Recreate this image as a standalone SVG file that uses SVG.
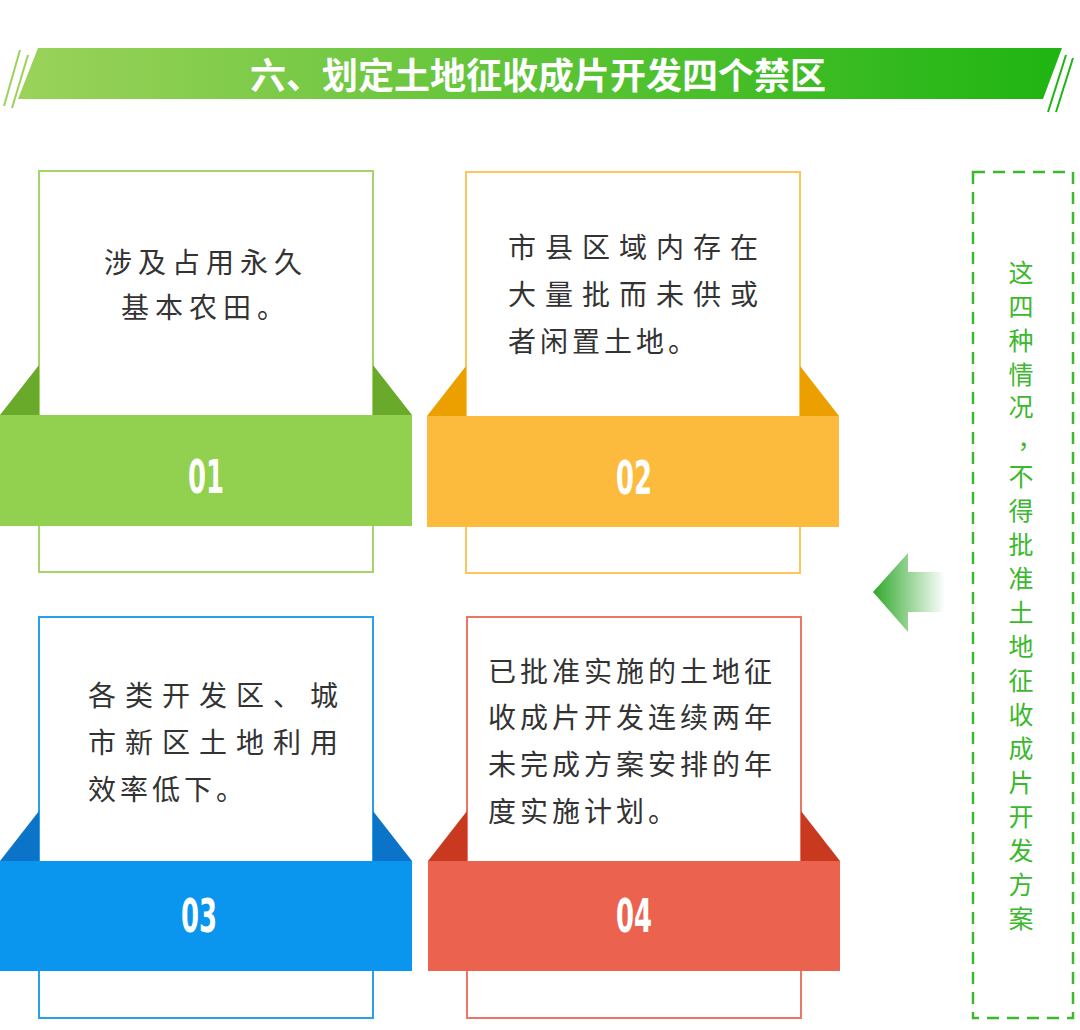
<svg xmlns="http://www.w3.org/2000/svg" width="1080" height="1030" viewBox="0 0 1080 1030">
<defs>
<linearGradient id="tg" x1="0" y1="0" x2="1" y2="0"><stop offset="0" stop-color="#9bd25a"/><stop offset="1" stop-color="#1fb512"/></linearGradient>
<linearGradient id="ag" x1="0" y1="0" x2="1" y2="0"><stop offset="0" stop-color="#2ea82a"/><stop offset="1" stop-color="#2ea82a" stop-opacity="0"/></linearGradient>
<style>
.t{font-family:"Noto Sans CJK SC",sans-serif;font-size:28px;fill:#333;letter-spacing:6px}
.n{font-family:"DejaVu Sans Condensed","DejaVu Sans",sans-serif;font-weight:bold;font-size:40px;fill:#fff;text-anchor:middle}
.v{font-family:"Noto Sans CJK SC",sans-serif;font-size:25px;fill:#3cb82e;text-anchor:middle}
</style>
</defs>
<rect width="1080" height="1030" fill="#fff"/>
<g id="title">
<polygon points="38,48 1062,48 1043,99 18,99" fill="url(#tg)"/>
<line x1="20" y1="50" x2="4" y2="106" stroke="#9bd25a" stroke-width="2"/>
<line x1="28" y1="55" x2="12" y2="108" stroke="#9bd25a" stroke-width="2"/>
<line x1="1066" y1="55" x2="1048" y2="112" stroke="#1fb512" stroke-width="2"/>
<line x1="1073" y1="58" x2="1056" y2="112" stroke="#1fb512" stroke-width="2"/>
<text x="538" y="89" text-anchor="middle" font-family="Noto Sans CJK SC,sans-serif" font-weight="bold" font-size="36" fill="#fff">六、划定土地征收成片开发四个禁区</text>
</g>
<g id="card1">
<rect x="39" y="171" width="334" height="401" fill="#fff" stroke="#a4d46a" stroke-width="2"/>
<polygon points="0,415 39,365 39,415" fill="#6aaa2a"/><polygon points="373,365 412,415 373,415" fill="#6aaa2a"/>
<rect x="0" y="415" width="412" height="111" fill="#92d050"/>
<text class="n" transform="translate(206,493) scale(0.72,1.15)">01</text>
<text class="t" x="206" y="273" text-anchor="middle">涉及占用永久</text>
<text class="t" x="206" y="318" text-anchor="middle">基本农田。</text>
</g>
<g id="card2">
<rect x="466" y="172" width="334" height="401" fill="#fff" stroke="#fdc55a" stroke-width="2"/>
<polygon points="427,416 466,366 466,416" fill="#eca000"/><polygon points="800,366 839,416 800,416" fill="#eca000"/>
<rect x="427" y="416" width="412" height="111" fill="#fdbb3e"/>
<text class="n" transform="translate(634,494) scale(0.72,1.15)">02</text>
<text class="t" x="508" y="258" style="letter-spacing:9px">市县区域内存在</text>
<text class="t" x="508" y="305" style="letter-spacing:9px">大量批而未供或</text>
<text class="t" x="508" y="352" style="letter-spacing:4px">者闲置土地。</text>
</g>
<g id="card3">
<rect x="39" y="617" width="334" height="401" fill="#fff" stroke="#2aa0ea" stroke-width="2"/>
<polygon points="0,861 39,811 39,861" fill="#0b74c8"/><polygon points="373,811 412,861 373,861" fill="#0b74c8"/>
<rect x="0" y="861" width="412" height="110" fill="#0a95ee"/>
<text class="n" transform="translate(199,932) scale(0.72,1.15)">03</text>
<text class="t" x="88" y="706" style="letter-spacing:9px">各类开发区、城</text>
<text class="t" x="88" y="753" style="letter-spacing:9px">市新区土地利用</text>
<text class="t" x="88" y="800" style="letter-spacing:4px">效率低下。</text>
</g>
<g id="card4">
<rect x="467" y="617" width="334" height="401" fill="#fff" stroke="#ec7664" stroke-width="2"/>
<polygon points="428,861 467,811 467,861" fill="#c9391f"/><polygon points="801,811 840,861 801,861" fill="#c9391f"/>
<rect x="428" y="861" width="412" height="110" fill="#eb634f"/>
<text class="n" transform="translate(634,932) scale(0.72,1.15)">04</text>
<text class="t" x="488" y="682" style="letter-spacing:4px">已批准实施的土地征</text>
<text class="t" x="488" y="728" style="letter-spacing:4px">收成片开发连续两年</text>
<text class="t" x="488" y="775" style="letter-spacing:4px">未完成方案安排的年</text>
<text class="t" x="488" y="822" style="letter-spacing:4px">度实施计划。</text>
</g>
<g id="connectors">
<polygon points="873,592 908,553 908,572 945,572 945,612 908,612 908,632" fill="url(#ag)"/>
</g>
<g id="note">
<rect x="973" y="172" width="100" height="846" fill="none" stroke="#3cb82e" stroke-width="2.5" stroke-dasharray="12,8"/>
<text class="v" x="1021" y="282">这</text><text class="v" x="1021" y="316">四</text><text class="v" x="1021" y="350">种</text><text class="v" x="1021" y="384">情</text><text class="v" x="1021" y="416">况</text><text class="v" x="1030" y="448">，</text><text class="v" x="1021" y="486">不</text><text class="v" x="1021" y="520">得</text><text class="v" x="1021" y="554">批</text><text class="v" x="1021" y="588">准</text><text class="v" x="1021" y="622">土</text><text class="v" x="1021" y="656">地</text><text class="v" x="1021" y="690">征</text><text class="v" x="1021" y="724">收</text><text class="v" x="1021" y="758">成</text><text class="v" x="1021" y="792">片</text><text class="v" x="1021" y="826">开</text><text class="v" x="1021" y="860">发</text><text class="v" x="1021" y="894">方</text><text class="v" x="1021" y="928">案</text>
</g>
</svg>
